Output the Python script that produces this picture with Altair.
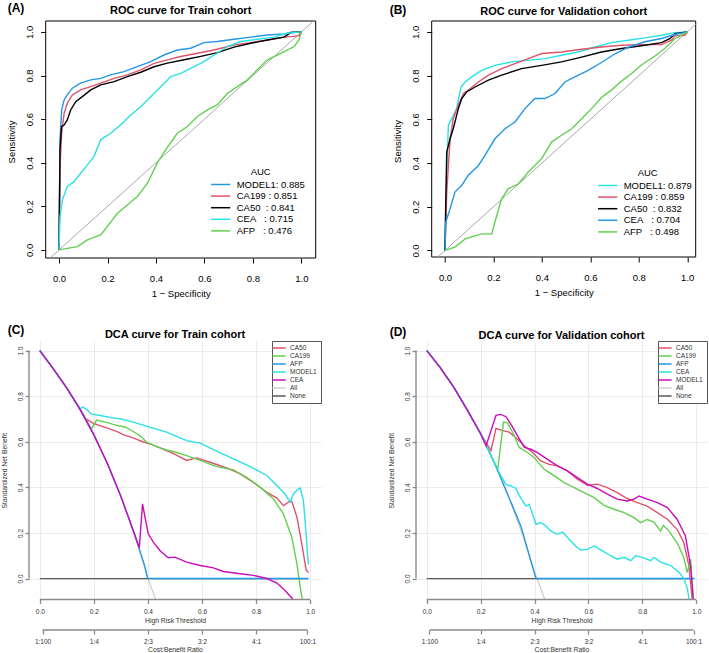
import json
import altair as alt
import pandas as pd

FONT = "Liberation Sans"

# ---------------- shared ticks / labels ----------------
TICKS = [0.0, 0.2, 0.4, 0.6, 0.8, 1.0]
CB_TICKS = [0.01, 0.2, 0.4, 0.6, 0.8, 0.99]
CB_LABELS = ["1:100", "1:4", "2:3", "3:2", "4:1", "100:1"]
PANEL_TAGS = ["(A)", "(B)", "(C)", "(D)"]
PANEL_TITLES = ["ROC curve for Train cohort", "ROC curve for Validation cohort",
                "DCA curve for Train cohort", "DCA curve for Validation cohort"]

# axis limits (plot-region extents)
A_XLIM, A_YLIM = [-0.055, 1.059], [-0.037, 1.050]
B_XLIM, B_YLIM = [-0.055, 1.035], [-0.030, 1.050]
DCA_XLIM, DCA_YLIM = [-0.04, 1.04], [-0.092, 1.042]

RED, GREEN, BLUE, CYAN, MAGENTA, BLACK = "#DF536B", "#61D04F", "#2297E6", "#28E2E5", "#CD0BBC", "#000000"
ALL_GRAY, NONE_GRAY = "#D0D0D0", "#5A5A5A"

# ---------------- (A) ROC train ----------------
A_LABELS = ["MODEL1: 0.885", "CA199\u00a0: 0.851", "CA50\u00a0\u00a0: 0.841",
            "CEA\u00a0\u00a0\u00a0: 0.715", "AFP\u00a0\u00a0\u00a0: 0.476"]
A_COLORS = [BLUE, RED, BLACK, CYAN, GREEN]
A_MODEL1_X = [0, 0.004, 0.011, 0.021, 0.034, 0.055, 0.089, 0.131, 0.172, 0.213, 0.268, 0.323, 0.378, 0.433, 0.488, 0.543, 0.598, 0.653, 0.722, 0.791, 0.860, 0.928, 0.956, 1.0]
A_MODEL1_Y = [0, 0.505, 0.642, 0.688, 0.711, 0.742, 0.765, 0.780, 0.787, 0.803, 0.818, 0.841, 0.864, 0.894, 0.917, 0.925, 0.951, 0.956, 0.966, 0.976, 0.986, 0.991, 0.997, 1.0]
A_CA199_X = [0, 0.004, 0.011, 0.021, 0.034, 0.055, 0.089, 0.131, 0.172, 0.227, 0.282, 0.337, 0.392, 0.447, 0.502, 0.571, 0.640, 0.722, 0.791, 0.860, 0.928, 0.990, 1.0]
A_CA199_Y = [0, 0.382, 0.535, 0.627, 0.673, 0.711, 0.734, 0.749, 0.765, 0.787, 0.803, 0.826, 0.856, 0.872, 0.887, 0.902, 0.917, 0.940, 0.951, 0.963, 0.976, 0.982, 1.0]
A_CA50_X = [0, 0.004, 0.010, 0.021, 0.034, 0.048, 0.069, 0.096, 0.131, 0.172, 0.227, 0.282, 0.337, 0.392, 0.447, 0.516, 0.585, 0.653, 0.722, 0.791, 0.860, 0.928, 0.956, 1.0]
A_CA50_Y = [0, 0.459, 0.566, 0.573, 0.596, 0.642, 0.680, 0.703, 0.734, 0.757, 0.772, 0.795, 0.815, 0.840, 0.857, 0.872, 0.888, 0.905, 0.930, 0.948, 0.963, 0.976, 0.997, 1.0]
A_CEA_X = [0, 0.004, 0.014, 0.034, 0.062, 0.089, 0.117, 0.144, 0.172, 0.213, 0.254, 0.296, 0.337, 0.378, 0.420, 0.461, 0.502, 0.543, 0.598, 0.640, 0.695, 0.750, 0.818, 0.887, 0.942, 1.0]
A_CEA_Y = [0, 0.153, 0.229, 0.291, 0.313, 0.352, 0.390, 0.428, 0.505, 0.535, 0.573, 0.619, 0.657, 0.703, 0.749, 0.795, 0.810, 0.833, 0.864, 0.894, 0.933, 0.956, 0.966, 0.976, 0.994, 1.0]
A_AFP_X = [0, 0.076, 0.117, 0.172, 0.199, 0.241, 0.282, 0.323, 0.365, 0.406, 0.447, 0.488, 0.530, 0.571, 0.612, 0.653, 0.695, 0.736, 0.777, 0.818, 0.860, 0.915, 0.970, 0.990, 1.0]
A_AFP_Y = [0, 0.015, 0.046, 0.069, 0.107, 0.168, 0.206, 0.245, 0.306, 0.400, 0.470, 0.535, 0.566, 0.612, 0.642, 0.665, 0.719, 0.749, 0.780, 0.826, 0.872, 0.902, 0.933, 0.963, 1.0]

# ---------------- (B) ROC validation ----------------
B_LABELS = ["MODEL1: 0.879", "CA199\u00a0: 0.859", "CA50\u00a0\u00a0: 0.832",
            "CEA\u00a0\u00a0\u00a0: 0.704", "AFP\u00a0\u00a0\u00a0: 0.498"]
B_COLORS = [CYAN, RED, BLACK, BLUE, GREEN]
B_MODEL1_X = [0, 0.003, 0.014, 0.028, 0.048, 0.066, 0.083, 0.110, 0.151, 0.206, 0.275, 0.344, 0.413, 0.481, 0.550, 0.619, 0.688, 0.757, 0.825, 0.894, 0.949, 1.0]
B_MODEL1_Y = [0, 0.237, 0.573, 0.603, 0.649, 0.748, 0.771, 0.794, 0.824, 0.847, 0.863, 0.870, 0.878, 0.893, 0.908, 0.931, 0.951, 0.962, 0.973, 0.985, 0.997, 1.0]
B_CA199_X = [0, 0.007, 0.021, 0.034, 0.055, 0.076, 0.103, 0.138, 0.179, 0.234, 0.289, 0.344, 0.399, 0.481, 0.564, 0.646, 0.729, 0.812, 0.894, 0.935, 0.949, 0.990, 1.0]
B_CA199_Y = [0, 0.267, 0.511, 0.603, 0.664, 0.718, 0.740, 0.771, 0.802, 0.832, 0.855, 0.878, 0.901, 0.908, 0.921, 0.931, 0.939, 0.942, 0.942, 0.962, 0.982, 0.985, 1.0]
B_CA50_X = [0, 0.003, 0.007, 0.021, 0.034, 0.055, 0.069, 0.089, 0.124, 0.179, 0.234, 0.316, 0.399, 0.481, 0.564, 0.646, 0.729, 0.825, 0.894, 0.928, 0.949, 1.0]
B_CA50_Y = [0, 0.206, 0.450, 0.511, 0.557, 0.649, 0.695, 0.725, 0.748, 0.779, 0.802, 0.832, 0.847, 0.863, 0.885, 0.908, 0.924, 0.939, 0.951, 0.969, 0.992, 1.0]
B_CEA_X = [0, 0.003, 0.021, 0.041, 0.069, 0.096, 0.138, 0.165, 0.206, 0.248, 0.289, 0.330, 0.371, 0.413, 0.454, 0.495, 0.536, 0.591, 0.646, 0.702, 0.757, 0.825, 0.894, 0.949, 1.0]
B_CEA_Y = [0, 0.130, 0.191, 0.267, 0.298, 0.344, 0.389, 0.435, 0.511, 0.557, 0.588, 0.649, 0.695, 0.695, 0.718, 0.771, 0.794, 0.824, 0.860, 0.900, 0.930, 0.955, 0.970, 0.988, 1.0]
B_AFP_X = [0, 0.041, 0.083, 0.151, 0.193, 0.206, 0.234, 0.261, 0.303, 0.344, 0.399, 0.440, 0.481, 0.523, 0.564, 0.605, 0.646, 0.688, 0.729, 0.770, 0.812, 0.867, 0.908, 0.949, 1.0]
B_AFP_Y = [0, 0.015, 0.053, 0.076, 0.076, 0.130, 0.237, 0.282, 0.305, 0.359, 0.420, 0.496, 0.527, 0.557, 0.603, 0.649, 0.700, 0.735, 0.775, 0.810, 0.850, 0.890, 0.925, 0.969, 1.0]

# ---------------- (C) DCA train ----------------
C_NAMES = ["CA50", "CA199", "AFP", "MODEL1", "CEA"]
C_COLORS = [RED, GREEN, BLUE, CYAN, MAGENTA]
C_ALL_X = [0, 0.05, 0.1, 0.15, 0.2, 0.25, 0.3, 0.35, 0.4, 0.45]
C_ALL_Y = [1.0, 0.92, 0.835, 0.74, 0.63, 0.505, 0.36, 0.195, 0.0, -0.16]
C_NONE_X = [0, 0.99]
C_NONE_Y = [0, 0]
C_CA50_X = [0, 0.05, 0.1, 0.15, 0.17, 0.2, 0.222, 0.25, 0.284, 0.31, 0.346, 0.38, 0.407, 0.44, 0.469, 0.50, 0.543, 0.58, 0.63, 0.691, 0.741, 0.790, 0.840, 0.877, 0.901, 0.920, 0.932, 0.951, 0.969, 0.985, 0.994]
C_CA50_Y = [1.0, 0.92, 0.835, 0.74, 0.70, 0.68, 0.671, 0.66, 0.646, 0.63, 0.617, 0.60, 0.591, 0.575, 0.561, 0.545, 0.518, 0.529, 0.510, 0.485, 0.459, 0.422, 0.378, 0.353, 0.320, 0.335, 0.339, 0.269, 0.152, 0.038, 0.025]
C_CA199_X = [0, 0.05, 0.1, 0.15, 0.191, 0.21, 0.247, 0.284, 0.315, 0.346, 0.370, 0.395, 0.43, 0.469, 0.50, 0.543, 0.593, 0.654, 0.716, 0.765, 0.815, 0.864, 0.901, 0.932, 0.951, 0.963, 0.975]
C_CA199_Y = [1.0, 0.92, 0.835, 0.74, 0.655, 0.695, 0.685, 0.672, 0.665, 0.645, 0.627, 0.598, 0.58, 0.564, 0.555, 0.539, 0.518, 0.491, 0.477, 0.444, 0.401, 0.349, 0.284, 0.181, 0.064, -0.038, -0.12]
C_AFP_X = [0, 0.05, 0.1, 0.15, 0.2, 0.25, 0.3, 0.35, 0.368, 0.377, 0.389, 0.399, 0.994]
C_AFP_Y = [1.0, 0.92, 0.835, 0.74, 0.63, 0.505, 0.36, 0.195, 0.13, 0.096, 0.051, 0.0, 0.0]
C_MODEL1_X = [0, 0.05, 0.1, 0.148, 0.16, 0.175, 0.19, 0.222, 0.272, 0.30, 0.346, 0.407, 0.469, 0.543, 0.593, 0.654, 0.716, 0.778, 0.840, 0.889, 0.907, 0.926, 0.938, 0.950, 0.963, 0.975, 0.985, 0.993]
C_MODEL1_Y = [1.0, 0.92, 0.835, 0.745, 0.752, 0.74, 0.722, 0.715, 0.705, 0.70, 0.686, 0.664, 0.642, 0.605, 0.594, 0.559, 0.525, 0.491, 0.452, 0.393, 0.371, 0.335, 0.371, 0.386, 0.397, 0.342, 0.196, 0.061]
C_CEA_X = [0, 0.05, 0.1, 0.15, 0.2, 0.25, 0.3, 0.35, 0.368, 0.380, 0.389, 0.401, 0.420, 0.444, 0.475, 0.500, 0.543, 0.593, 0.642, 0.679, 0.741, 0.790, 0.840, 0.877, 0.907, 0.932, 0.955]
C_CEA_Y = [1.0, 0.92, 0.835, 0.74, 0.63, 0.505, 0.36, 0.195, 0.135, 0.328, 0.269, 0.196, 0.160, 0.123, 0.091, 0.094, 0.072, 0.057, 0.047, 0.031, 0.021, 0.014, 0.0, -0.02, -0.053, -0.085, -0.12]

# ---------------- (D) DCA validation ----------------
D_NAMES = ["CA50", "CA199", "AFP", "CEA", "MODEL1"]
D_COLORS = [RED, GREEN, BLUE, CYAN, MAGENTA]
D_ALL_X = [0, 0.05, 0.1, 0.15, 0.2, 0.25, 0.3, 0.35, 0.4, 0.45]
D_ALL_Y = [1.0, 0.925, 0.84, 0.74, 0.635, 0.51, 0.37, 0.21, 0.03, -0.13]
D_NONE_X = [0, 0.99]
D_NONE_Y = [0, 0]
D_CA50_X = [0, 0.05, 0.1, 0.15, 0.2, 0.238, 0.257, 0.281, 0.306, 0.331, 0.362, 0.393, 0.423, 0.454, 0.485, 0.522, 0.559, 0.596, 0.633, 0.670, 0.707, 0.744, 0.781, 0.818, 0.856, 0.893, 0.929, 0.954, 0.973, 0.985]
D_CA50_Y = [1.0, 0.925, 0.84, 0.74, 0.635, 0.561, 0.659, 0.649, 0.642, 0.618, 0.582, 0.553, 0.516, 0.501, 0.494, 0.472, 0.436, 0.409, 0.414, 0.399, 0.377, 0.351, 0.333, 0.318, 0.289, 0.260, 0.216, 0.157, 0.055, -0.09]
D_CA199_X = [0, 0.05, 0.1, 0.15, 0.2, 0.25, 0.263, 0.285, 0.300, 0.325, 0.343, 0.374, 0.399, 0.436, 0.473, 0.510, 0.547, 0.584, 0.621, 0.658, 0.695, 0.732, 0.769, 0.794, 0.818, 0.843, 0.868, 0.878, 0.899, 0.929, 0.954, 0.967, 0.979, 0.989]
D_CA199_Y = [1.0, 0.925, 0.84, 0.74, 0.635, 0.51, 0.479, 0.686, 0.683, 0.626, 0.575, 0.553, 0.530, 0.479, 0.450, 0.421, 0.399, 0.377, 0.355, 0.321, 0.304, 0.289, 0.267, 0.245, 0.259, 0.248, 0.208, 0.233, 0.208, 0.157, 0.092, 0.026, 0.085, -0.09]
D_AFP_X = [0, 0.05, 0.1, 0.15, 0.2, 0.25, 0.3, 0.349, 0.405, 0.994]
D_AFP_Y = [1.0, 0.925, 0.84, 0.74, 0.635, 0.51, 0.37, 0.231, 0.0, 0.0]
D_CEA_X = [0, 0.05, 0.1, 0.15, 0.2, 0.25, 0.275, 0.294, 0.312, 0.331, 0.343, 0.368, 0.380, 0.393, 0.405, 0.423, 0.442, 0.460, 0.485, 0.504, 0.528, 0.553, 0.571, 0.596, 0.621, 0.652, 0.683, 0.707, 0.732, 0.757, 0.775, 0.800, 0.831, 0.843, 0.868, 0.905, 0.936, 0.954, 0.967, 0.975]
D_CEA_Y = [1.0, 0.925, 0.84, 0.74, 0.635, 0.51, 0.45, 0.413, 0.406, 0.395, 0.365, 0.318, 0.326, 0.282, 0.238, 0.245, 0.231, 0.209, 0.194, 0.204, 0.172, 0.143, 0.125, 0.128, 0.143, 0.121, 0.100, 0.085, 0.093, 0.078, 0.100, 0.093, 0.078, 0.093, 0.072, 0.057, 0.028, 0.0, -0.044, -0.1]
D_MODEL1_X = [0, 0.05, 0.1, 0.15, 0.2, 0.220, 0.238, 0.257, 0.275, 0.294, 0.312, 0.337, 0.362, 0.386, 0.411, 0.448, 0.485, 0.522, 0.559, 0.596, 0.633, 0.670, 0.707, 0.744, 0.769, 0.788, 0.818, 0.856, 0.893, 0.929, 0.960, 0.979, 0.989]
D_MODEL1_Y = [1.0, 0.925, 0.84, 0.74, 0.635, 0.582, 0.647, 0.716, 0.720, 0.710, 0.677, 0.626, 0.575, 0.567, 0.552, 0.523, 0.494, 0.472, 0.443, 0.414, 0.395, 0.370, 0.348, 0.340, 0.348, 0.362, 0.348, 0.333, 0.311, 0.260, 0.187, 0.056, -0.09]

CB_EXPR = "{}[indexof({}, datum.value)]".format(json.dumps(CB_LABELS), json.dumps(CB_TICKS))


def series_frame(names, xs_list, ys_list):
    rows = []
    for name, xs, ys in zip(names, xs_list, ys_list):
        for i, (x, y) in enumerate(zip(xs, ys)):
            rows.append({"series": name, "x": x, "y": y, "i": i})
    return pd.DataFrame(rows)


def text_layer(txt, x, y, size, align="left"):
    return alt.Chart(pd.DataFrame({"t": [txt]})).mark_text(
        align=align, baseline="alphabetic", fontSize=size, fontWeight="bold",
        font=FONT, color="black").encode(text="t:N", x=alt.value(x), y=alt.value(y))


def anchor_layer(x, y1, y2):
    return alt.Chart(pd.DataFrame({"a": [0]})).mark_rule(opacity=0).encode(
        x=alt.value(x), y=alt.value(y1), y2=alt.value(y2))


def roc_panel(labels, colors, xs_list, ys_list, xlim, ylim, title, tag, tag_x, tag_y, title_y,
              w, h, leg_x, leg_y, lead=0.0, anchor=None):
    # 'lead' = extra blank pixels on the left of the framed plot (keeps panel origins aligned)
    df = series_frame(labels, xs_list, ys_list)
    k = w / (xlim[1] - xlim[0])
    sx = alt.Scale(domain=[xlim[0] - lead / k, xlim[1]], nice=False, zero=False)
    sy = alt.Scale(domain=ylim, nice=False, zero=False)
    ax = alt.Axis(values=TICKS, format=".1f", title="1 \u2212 Specificity", domain=False, grid=False,
                  tickSize=5, tickColor="black", tickWidth=1, labelFont=FONT, labelFontSize=9.5,
                  labelColor="black", labelPadding=10, labelFlush=False, labelOverlap=False,
                  titleFont=FONT, titleFontSize=9.5, titleFontWeight="normal", titleColor="black",
                  titleX=lead + w / 2, titleY=38, titleAlign="center", titleBaseline="alphabetic")
    ay = alt.Axis(values=TICKS, format=".1f", title="Sensitivity", domain=False, grid=False,
                  offset=-lead, tickSize=5, tickColor="black", tickWidth=1, labelFont=FONT,
                  labelFontSize=9.5, labelColor="black", labelAngle=270, labelAlign="center",
                  labelBaseline="middle", labelPadding=11, labelOverlap=False, titleFont=FONT,
                  titleFontSize=9.5, titleFontWeight="normal", titleColor="black", titleAngle=270,
                  titleX=-34, titleY=h / 2 + 2, titleAlign="center", titleBaseline="middle")
    leg = alt.Legend(title="AUC", orient="none", legendX=lead + leg_x, legendY=leg_y, padding=0,
                     titleFont=FONT, titleFontSize=9.5, titleFontWeight="normal", titleColor="black",
                     titleAnchor="middle", titlePadding=3.0, labelFont=FONT, labelFontSize=9.5,
                     labelColor="black", symbolType="M-2.4,0H2.4", symbolSize=64,
                     symbolStrokeWidth=1.5, labelOffset=11, rowPadding=1.6, labelLimit=300)
    d_lo, d_hi = max(xlim[0], ylim[0]), min(xlim[1], ylim[1])
    frame = alt.Chart(pd.DataFrame({"x": [xlim[0]], "x2": [xlim[1]], "y": [ylim[0]], "y2": [ylim[1]]})
                      ).mark_rect(fill="transparent", stroke="black", strokeWidth=1).encode(
        x=alt.X("x:Q", scale=sx, axis=ax), x2="x2:Q", y=alt.Y("y:Q", scale=sy, axis=ay), y2="y2:Q")
    diag = alt.Chart(pd.DataFrame({"x": [d_lo, d_hi], "y": [d_lo, d_hi]})).mark_line(
        color="#A8A8A8", strokeWidth=1).encode(
        x=alt.X("x:Q", scale=sx, axis=ax), y=alt.Y("y:Q", scale=sy, axis=ay))
    lines = alt.Chart(df).mark_line(strokeWidth=1.4).encode(
        x=alt.X("x:Q", scale=sx, axis=ax), y=alt.Y("y:Q", scale=sy, axis=ay),
        color=alt.Color("series:N", scale=alt.Scale(domain=labels, range=colors), legend=leg),
        order=alt.Order("i:Q"))
    layers = [frame, diag, lines, text_layer(tag, lead + tag_x, tag_y, 12),
              text_layer(title, lead + w / 2, title_y, 11, "center")]
    if anchor:
        layers.append(anchor_layer(*anchor))
    return alt.layer(*layers).properties(width=lead + w, height=h)


AXG = "#8A8A8A"
TXT = "#333333"


def dca_panel(names, colors, xs_list, ys_list, all_x, all_y, none_x, none_y, title, tag,
              tag_x, tag_y, title_y, w, h, anchor=None):
    dom = names + ["All", "None"]
    rng = colors + [ALL_GRAY, NONE_GRAY]
    sx = alt.Scale(domain=DCA_XLIM, nice=False, zero=False)
    sy = alt.Scale(domain=DCA_YLIM, nice=False, zero=False)
    leg = alt.Legend(title=None, orient="top-right", offset=0, padding=3.5, strokeColor="#555555",
                     fillColor="white", labelFont=FONT, labelFontSize=6.5, labelColor=TXT,
                     symbolType="M-2.64,0H2.64", symbolSize=25, symbolStrokeWidth=1.5,
                     labelOffset=7.5, rowPadding=1.0)
    color = alt.Color("series:N", scale=alt.Scale(domain=dom, range=rng), legend=leg)
    ax = alt.Axis(values=TICKS, format=".1f", title="High Risk Threshold", domain=False, grid=True,
                  gridColor="#EBEBEB", gridWidth=1, tickSize=4, tickColor=AXG, tickWidth=1.3,
                  labelFont=FONT, labelFontSize=6.5, labelColor=TXT, labelPadding=5,
                  labelFlush=False, labelOverlap=False, titleFont=FONT, titleFontSize=6.8,
                  titleFontWeight="normal", titleColor=TXT, titleY=23, titleBaseline="alphabetic")
    ay = alt.Axis(values=TICKS, format=".1f", title="Standardized Net Benefit", domain=False,
                  grid=True, gridColor="#EBEBEB", gridWidth=1, tickSize=4, tickColor=AXG,
                  tickWidth=1.3, labelFont=FONT, labelFontSize=6.5, labelColor=TXT, labelAngle=270,
                  labelAlign="center", labelBaseline="middle", labelPadding=4.5, labelOverlap=False,
                  titleFont=FONT, titleFontSize=6.8, titleFontWeight="normal", titleColor=TXT,
                  titleAngle=270, titleX=-25, titleY=h / 2, titleAlign="center",
                  titleBaseline="middle")
    cb = alt.Axis(orient="bottom", offset=30.5, values=CB_TICKS, labelExpr=CB_EXPR,
                  title="Cost:Benefit Ratio", domain=False, grid=False, tickSize=4, tickColor=AXG,
                  tickWidth=1.3, labelFont=FONT, labelFontSize=6.5, labelColor=TXT,
                  labelPadding=4.2, labelFlush=False, labelOverlap=False, titleFont=FONT,
                  titleFontSize=6.8, titleFontWeight="normal", titleColor=TXT, titleY=21.5,
                  titleBaseline="alphabetic")
    ref_df = series_frame(["All", "None"], [all_x, none_x], [all_y, none_y])
    mod_df = series_frame(names, xs_list, ys_list)
    ref = alt.Chart(ref_df).mark_line(strokeWidth=1.3, clip=True).encode(
        x=alt.X("x:Q", scale=sx, axis=ax), y=alt.Y("y:Q", scale=sy, axis=ay),
        color=color, order=alt.Order("i:Q"))
    mods = alt.Chart(mod_df).mark_line(strokeWidth=1.4, clip=True).encode(
        x=alt.X("x:Q", scale=sx, axis=None), y=alt.Y("y:Q", scale=sy, axis=None),
        color=color, order=alt.Order("i:Q"))
    xline = alt.Chart(pd.DataFrame({"x": [TICKS[0]], "x2": [TICKS[-1]]})).mark_rule(
        color=AXG, strokeWidth=1.4).encode(
        x=alt.X("x:Q", scale=sx, axis=None), x2="x2:Q", y=alt.value(h))
    yline = alt.Chart(pd.DataFrame({"y": [TICKS[0]], "y2": [TICKS[-1]]})).mark_rule(
        color=AXG, strokeWidth=1.4).encode(
        y=alt.Y("y:Q", scale=sy, axis=None), y2="y2:Q", x=alt.value(0))
    cbline = alt.Chart(pd.DataFrame({"x": [CB_TICKS[0]], "x2": [CB_TICKS[-1]]})).mark_rule(
        color=AXG, strokeWidth=1.4).encode(
        x=alt.X("x:Q", scale=sx, axis=cb), x2="x2:Q", y=alt.value(h + 30.5))
    layers = [ref, mods, xline, yline, cbline, text_layer(tag, tag_x, tag_y, 12),
              text_layer(title, w / 2, title_y, 11, "center")]
    if anchor:
        layers.append(anchor_layer(*anchor))
    return alt.layer(*layers).resolve_axis(x="independent", y="independent").properties(
        width=w, height=h)


LEAD = 16.7   # A's frame starts 16.7 px right of C's plot edge

pA = roc_panel(A_LABELS, A_COLORS,
               [A_MODEL1_X, A_CA199_X, A_CA50_X, A_CEA_X, A_AFP_X],
               [A_MODEL1_Y, A_CA199_Y, A_CA50_Y, A_CEA_Y, A_AFP_Y],
               A_XLIM, A_YLIM, PANEL_TITLES[0], PANEL_TAGS[0], -38, -9.5, -7, 270, 237, 170, 146,
               lead=LEAD, anchor=(-28.3, -21, 287))
pB = roc_panel(B_LABELS, B_COLORS,
               [B_MODEL1_X, B_CA199_X, B_CA50_X, B_CEA_X, B_AFP_X],
               [B_MODEL1_Y, B_CA199_Y, B_CA50_Y, B_CEA_Y, B_AFP_Y],
               B_XLIM, B_YLIM, PANEL_TITLES[1], PANEL_TAGS[1], -42, -7.5, -6, 264, 236, 171, 147)
pC = dca_panel(C_NAMES, C_COLORS,
               [C_CA50_X, C_CA199_X, C_AFP_X, C_MODEL1_X, C_CEA_X],
               [C_CA50_Y, C_CA199_Y, C_AFP_Y, C_MODEL1_Y, C_CEA_Y],
               C_ALL_X, C_ALL_Y, C_NONE_X, C_NONE_Y,
               PANEL_TITLES[2], PANEL_TAGS[2], -21.3, -7.5, -3.5, 292, 258.5,
               anchor=(-28.3, -32.5, 0))
pD = dca_panel(D_NAMES, D_COLORS,
               [D_CA50_X, D_CA199_X, D_AFP_X, D_CEA_X, D_MODEL1_X],
               [D_CA50_Y, D_CA199_Y, D_AFP_Y, D_CEA_Y, D_MODEL1_Y],
               D_ALL_X, D_ALL_Y, D_NONE_X, D_NONE_Y,
               PANEL_TITLES[3], PANEL_TAGS[3], -26.3, -5.5, -2.5, 291, 258.5)

row1 = alt.hconcat(pA, pB, spacing=115.7, bounds="flush").resolve_scale(
    color="independent", x="independent", y="independent")
row2 = alt.hconcat(pC, pD, spacing=95, bounds="flush").resolve_scale(
    color="independent", x="independent", y="independent")

chart = alt.vconcat(row1, row2, spacing=0).resolve_scale(
    color="independent", x="independent", y="independent").properties(
    padding=0, background="white").configure_view(stroke=None)

chart.save("out.html", embed_options={"renderer": "svg", "actions": False})
